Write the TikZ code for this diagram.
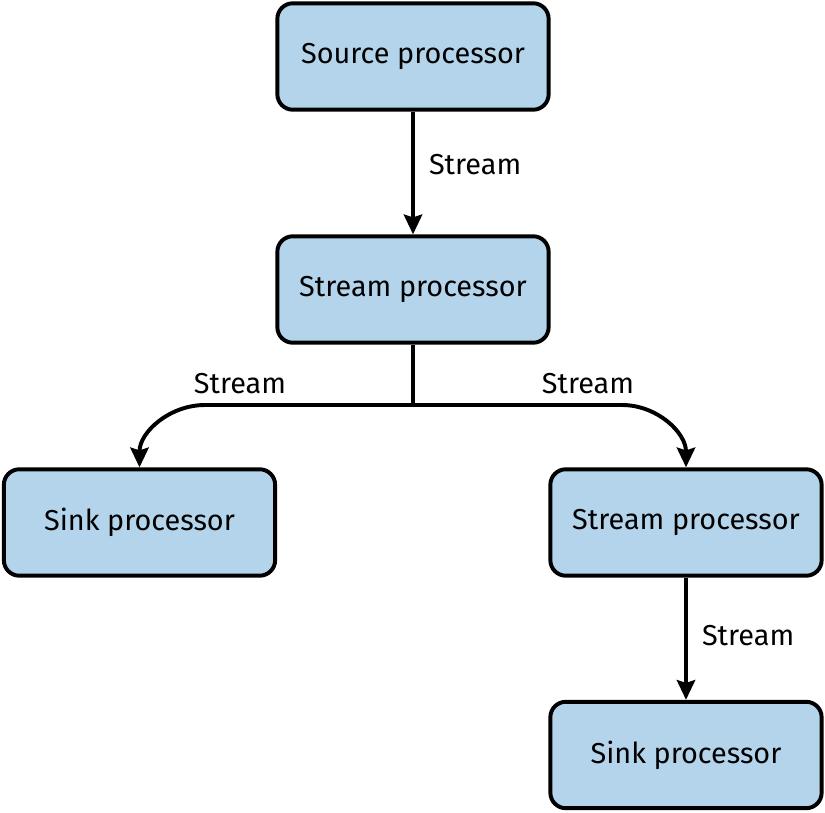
\documentclass[tikz,border=0pt]{standalone}
\usepackage{fontspec}
\setmainfont{Fira Sans}
\definecolor{ProcBlue}{HTML}{B3D4EA}
\usetikzlibrary{arrows.meta, positioning, calc}

\begin{document}
\begin{tikzpicture}[>={Stealth[length=14pt, width=13pt, inset=2pt]},
  x=0.025cm, y=-0.025cm, line width=2.8pt,
  proc/.style={draw, rounded corners=11pt, fill=ProcBlue,
               minimum width=6.78cm, minimum height=2.66cm,
               font=\fontsize{20.5}{24}\selectfont, align=center},
  lbl/.style={font=\fontsize{20.5}{24}\selectfont, inner sep=0pt}]
  \useasboundingbox (0,0) rectangle (825,813);
  \node[proc] (src) at (413, 56.5) {Source processor};
  \node[proc] (mid) at (413, 289.5) {Stream processor};
  \node[proc] (sinkL) at (139.5, 522.5) {Sink processor};
  \node[proc] (midR) at (686, 522.5) {Stream processor};
  \node[proc] (sinkR) at (686, 755) {Sink processor};
  \coordinate (split) at (413, 405);
  \coordinate (bendL) at (205, 405);
  \coordinate (bendR) at (622, 405);
  \draw[->] (src) -- node[lbl, right=10pt, yshift=6pt] {Stream} (mid);
  \draw (mid) -- (split);
  \draw[->] (split) -- (bendL) to[out=180, in=90] (sinkL.north);
  \draw[->] (split) -- (bendR) to[out=0, in=90] (midR.north);
  \node[lbl] (lblL) at (240, 384) {Stream};
  \node[lbl] (lblR) at (588, 384) {Stream};
  \draw[->] (midR) -- node[lbl, right=10pt, yshift=2pt] {Stream} (sinkR);
\end{tikzpicture}
\end{document}
